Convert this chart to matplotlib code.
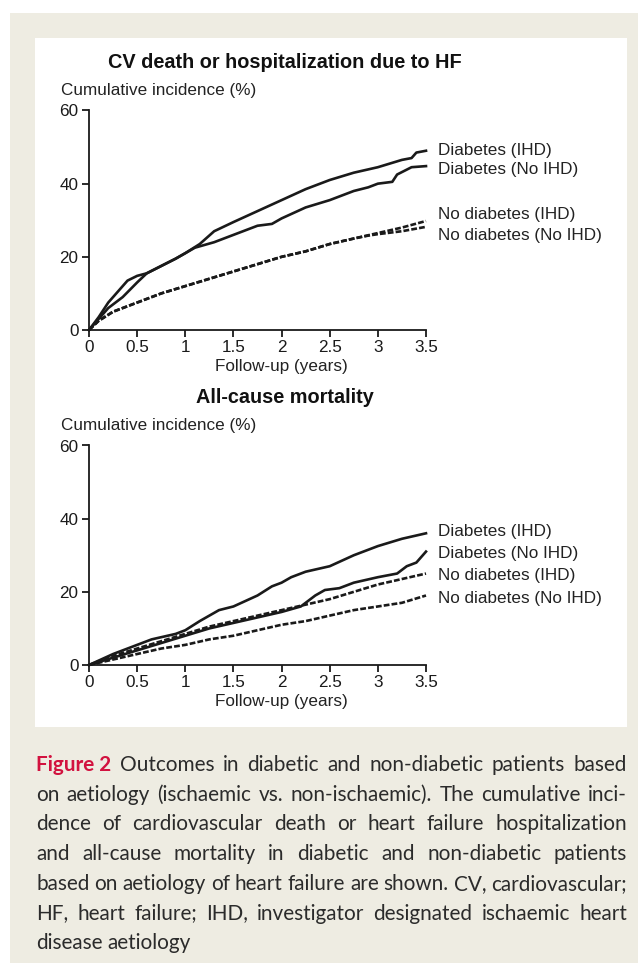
import matplotlib
matplotlib.use("Agg")
import matplotlib.pyplot as plt
from matplotlib.patches import Rectangle

W, H = 638, 963
BEIGE = "#eeece2"
RED = "#d2123f"

series_names = ["Diabetes (IHD)", "Diabetes (No IHD)", "No diabetes (IHD)", "No diabetes (No IHD)"]
dashed = [False, False, True, True]

# top panel: CV death or HF hospitalization
top_t = [
    [0, 0.1, 0.2, 0.35, 0.5, 0.6, 0.75, 0.9, 1.0, 1.15, 1.3, 1.5, 1.75, 2.0, 2.25, 2.5, 2.75, 3.0, 3.25, 3.35, 3.4, 3.5],
    [0, 0.1, 0.2, 0.3, 0.4, 0.5, 0.6, 0.75, 0.9, 1.0, 1.1, 1.3, 1.5, 1.75, 1.9, 2.0, 2.25, 2.5, 2.75, 2.9, 3.0, 3.15, 3.2, 3.35, 3.5],
    [0, 0.1, 0.25, 0.5, 0.75, 1.0, 1.25, 1.5, 1.75, 2.0, 2.25, 2.5, 2.75, 3.0, 3.25, 3.5],
    [0, 0.1, 0.25, 0.5, 0.75, 1.0, 1.25, 1.5, 1.75, 2.0, 2.25, 2.5, 2.75, 2.9, 3.0, 3.25, 3.5],
]
top_v = [
    [0, 3, 6, 9, 13, 15.5, 17.5, 19.5, 21, 23.5, 27, 29.5, 32.5, 35.5, 38.5, 41, 43, 44.5, 46.5, 47, 48.5, 49],
    [0, 3.5, 7.5, 10.5, 13.5, 14.8, 15.5, 17.5, 19.5, 21, 22.5, 24, 26, 28.5, 29, 30.5, 33.5, 35.5, 38, 39, 40, 40.5, 42.5, 44.5, 44.8],
    [0, 2.5, 5, 7.5, 10, 12, 14, 16, 18, 20, 21.5, 23.5, 25, 26.5, 28, 29.8],
    [0, 2.5, 5, 7.5, 10, 12, 14, 16, 18, 20, 21.5, 23.5, 25, 25.8, 26.2, 27, 28.2],
]

# bottom panel: all-cause mortality
bot_t = [
    [0, 0.25, 0.5, 0.65, 0.9, 1.0, 1.15, 1.35, 1.5, 1.75, 1.9, 2.0, 2.1, 2.25, 2.5, 2.75, 3.0, 3.25, 3.5],
    [0, 0.25, 0.5, 0.75, 1.0, 1.25, 1.5, 1.75, 2.0, 2.2, 2.35, 2.45, 2.6, 2.75, 3.0, 3.2, 3.3, 3.4, 3.5],
    [0, 0.25, 0.5, 0.75, 1.0, 1.25, 1.5, 1.75, 2.0, 2.25, 2.5, 2.75, 3.0, 3.25, 3.5],
    [0, 0.25, 0.5, 0.75, 1.0, 1.25, 1.5, 1.75, 2.0, 2.25, 2.5, 2.75, 3.0, 3.25, 3.5],
]
bot_v = [
    [0, 3, 5.5, 7, 8.5, 9.5, 12, 15, 16, 19, 21.5, 22.5, 24, 25.5, 27, 30, 32.5, 34.5, 36],
    [0, 2, 4, 6, 8, 10, 11.5, 13, 14.5, 16, 19, 20.5, 21, 22.5, 24, 25, 27, 28, 31],
    [0, 2.5, 4.5, 6.5, 8.5, 10.5, 12, 13.5, 15, 16.5, 18, 20, 22, 23.5, 25],
    [0, 1.5, 3, 4.5, 5.5, 7, 8, 9.5, 11, 12, 13.5, 15, 16, 17, 19],
]

xticks = [0, 0.5, 1, 1.5, 2, 2.5, 3, 3.5]
xticklabels = ["0", "0.5", "1", "1.5", "2", "2.5", "3", "3.5"]
yticks = [0, 20, 40, 60]

plt.rcParams['font.family'] = ['Liberation Sans', 'DejaVu Sans']
FS = 12.3

fig = plt.figure(figsize=(W / 100, H / 100), dpi=100)
fig.patch.set_facecolor("white")
fig.patches.append(Rectangle((10 / W, 0), 1 - 10 / W, 1 - 13 / H, transform=fig.transFigure,
                             facecolor=BEIGE, edgecolor="none", zorder=-10))
fig.patches.append(Rectangle((35 / W, 1 - 727 / H), (627 - 35) / W, (727 - 38) / H, transform=fig.transFigure,
                             facecolor="white", edgecolor="none", zorder=-9))


def panel(y0_px, y60_px, title, ts, vs, label_y):
    ax = fig.add_axes([89 / W, 1 - y0_px / H, (426 - 89) / W, (y0_px - y60_px) / H])
    ax.set_facecolor("none")
    for i in range(4):
        ls = (0, (2.2, 0.8)) if dashed[i] else "-"
        ax.plot(ts[i], vs[i], color="#1a1a1a", lw=1.9, ls=ls, clip_on=False,
                solid_joinstyle="round")
        ax.text(3.62, label_y[i], series_names[i], fontsize=FS, va="center", ha="left", color="#222222")
    ax.set_xlim(0, 3.5)
    ax.set_ylim(0, 60)
    ax.set_xticks(xticks)
    ax.set_xticklabels(xticklabels)
    ax.set_yticks(yticks)
    for s in ['top', 'right']:
        ax.spines[s].set_visible(False)
    for s in ['left', 'bottom']:
        ax.spines[s].set_linewidth(1.3)
        ax.spines[s].set_color("#1a1a1a")
    ax.tick_params(direction="out", length=5, width=1.3, labelsize=FS, colors="#1a1a1a", pad=2.5)
    ax.set_xlabel("Follow-up (years)", fontsize=FS, color="#222222")
    ax.xaxis.set_label_coords(0.57, -0.13)
    ax.text(-0.083, 1.09, "Cumulative incidence (%)", transform=ax.transAxes, fontsize=FS,
            ha="left", va="center", color="#222222")
    ax.text(0.58, 1.22, title, transform=ax.transAxes, fontsize=14.3, fontweight="bold",
            ha="center", va="center", color="#111111")
    return ax


panel(330, 110.5, "CV death or hospitalization due to HF", top_t, top_v, [49.2, 43.8, 31.5, 25.8])
panel(665, 445.5, "All-cause mortality", bot_t, bot_v, [36.4, 30.6, 24.6, 18.3])

# caption, justified line by line
cap_lines = [
    "Outcomes in diabetic and non-diabetic patients based",
    "on aetiology (ischaemic vs. non-ischaemic). The cumulative inci-",
    "dence of cardiovascular death or heart failure hospitalization",
    "and all-cause mortality in diabetic and non-diabetic patients",
    "based on aetiology of heart failure are shown. CV, cardiovascular;",
    "HF, heart failure; IHD, investigator designated ischaemic heart",
    "disease aetiology",
]
cap_font = ['Lato', 'DejaVu Sans']
x_left, x_right = 36, 627
line_y0, line_gap = 765, 29.7
renderer = fig.canvas.get_renderer()


def line_items(li):
    items = []
    if li == 0:
        items.append(("Figure 2", RED, "bold"))
    for w in cap_lines[li].split(" "):
        items.append((w, "#2b2b2b", "normal"))
    return items


# pick the caption size so the widest line still has a small word gap
probe = fig.text(0, 0, "x", fontsize=10, family=cap_font)
cap_fs = 20
for li in range(len(cap_lines) - 1):
    total = 0
    items = line_items(li)
    for s, c, wt in items:
        probe.set_text(s)
        probe.set_fontweight(wt)
        total += probe.get_window_extent(renderer).width
    min_gap = 0.22 * 10 * 100 / 72
    fs = 10 * (x_right - x_left) / (total + min_gap * (len(items) - 1))
    cap_fs = min(cap_fs, fs)
probe.remove()

for li in range(len(cap_lines)):
    y = 1 - (line_y0 + li * line_gap) / H
    texts = []
    for s, c, wt in line_items(li):
        t = fig.text(0, y, s, fontsize=cap_fs, color=c, fontweight=wt, family=cap_font, va="center", ha="left")
        texts.append(t)
    widths = [t.get_window_extent(renderer).width for t in texts]
    if li < len(cap_lines) - 1:
        gap = (x_right - x_left - sum(widths)) / (len(texts) - 1)
    else:
        gap = 0.25 * cap_fs * 100 / 72
    x = x_left
    for t, wd in zip(texts, widths):
        t.set_x(x / W)
        x += wd + gap

fig.savefig("out.png", dpi=100, facecolor=fig.get_facecolor())
